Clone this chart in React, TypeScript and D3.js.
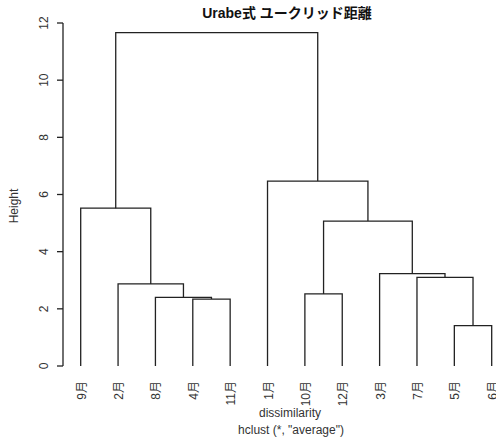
import React from "react";
import * as d3 from "d3";

const leafOrder: string[] = ["9月", "2月", "8月", "4月", "11月", "1月", "10月", "12月", "3月", "7月", "5月", "6月"];
// merges: [left, right, height]; strings = leaves, numbers = earlier merge ids (1-based)
const mergeLeft: (string | number)[] = ["5月", "4月", "8月", "10月", "2月", "7月", "3月", 4, "9月", "1月", 9];
const mergeRight: (string | number)[] = ["6月", "11月", 2, "12月", 3, 1, 6, 7, 5, 8, 10];
const mergeHeight: number[] = [1.41, 2.34, 2.40, 2.52, 2.87, 3.10, 3.23, 5.07, 5.52, 6.47, 11.66];
const yTicks: number[] = [0, 2, 4, 6, 8, 10, 12];

const W = 496;
const H = 438;
const FONT = "'Liberation Sans', Arial, Helvetica, sans-serif";

export default function App() {
  const x = d3.scaleLinear().domain([1, 12]).range([80.7, 491.7]);
  const y = d3.scaleLinear().domain([0, 12]).range([366, 23]);

  const nodeX: number[] = [];
  const nodeH: number[] = [];
  const getX = (c: string | number) => (typeof c === "string" ? x(leafOrder.indexOf(c) + 1) : nodeX[c - 1]);
  const getH = (c: string | number) => (typeof c === "string" ? 0 : nodeH[c - 1]);

  const paths: string[] = [];
  mergeHeight.forEach((h, i) => {
    const l = mergeLeft[i];
    const r = mergeRight[i];
    const xl = getX(l);
    const xr = getX(r);
    const p = d3.path();
    p.moveTo(xl, y(getH(l)));
    p.lineTo(xl, y(h));
    p.lineTo(xr, y(h));
    p.lineTo(xr, y(getH(r)));
    paths.push(p.toString());
    nodeX.push((xl + xr) / 2);
    nodeH.push(h);
  });

  const plotCenter = 288;

  return (
    <svg width={W} height={H} style={{ position: "absolute", left: 0, top: 0, background: "#fff" }} fontFamily={FONT}>
      <rect x={0} y={0} width={W} height={H} fill="#fff" />
      <text x={287} y={18} textAnchor="middle" fontSize={14} fontWeight="bold" fill="#111"
        fontFamily={"'Liberation Sans', 'Noto Sans CJK JP', sans-serif"}>
        Urabe式 ユークリッド距離
      </text>
      <g stroke="#222" strokeWidth={1.3} fill="none">
        {paths.map((d, i) => (
          <path key={i} d={d} />
        ))}
      </g>
      {/* y axis */}
      <g>
        <line x1={63} x2={63} y1={y(0)} y2={y(12)} stroke="#222" strokeWidth={1.3} />
        {yTicks.map((t) => (
          <g key={t}>
            <line x1={57} x2={63} y1={y(t)} y2={y(t)} stroke="#222" strokeWidth={1.3} />
            <text transform={`translate(44,${y(t)}) rotate(-90)`} textAnchor="middle" dominantBaseline="central"
              fontSize={12} fill="#333">
              {t}
            </text>
          </g>
        ))}
      </g>
      <text transform={`translate(14,206) rotate(-90)`} textAnchor="middle" dominantBaseline="central" fontSize={12} fill="#333">
        Height
      </text>
      {leafOrder.map((lab, i) => (
        <text key={lab} transform={`translate(${x(i + 1) + 1},381) rotate(-90)`} textAnchor="end" dominantBaseline="central"
          fontSize={12} fill="#333" fontFamily={"'Liberation Sans', 'Noto Sans CJK JP', sans-serif"}>
          {lab}
        </text>
      ))}
      <text x={plotCenter + 2} y={417} textAnchor="middle" fontSize={12} fill="#333">
        dissimilarity
      </text>
      <text x={plotCenter + 3} y={434} textAnchor="middle" fontSize={12} fill="#333">
        hclust (*, "average")
      </text>
    </svg>
  );
}
